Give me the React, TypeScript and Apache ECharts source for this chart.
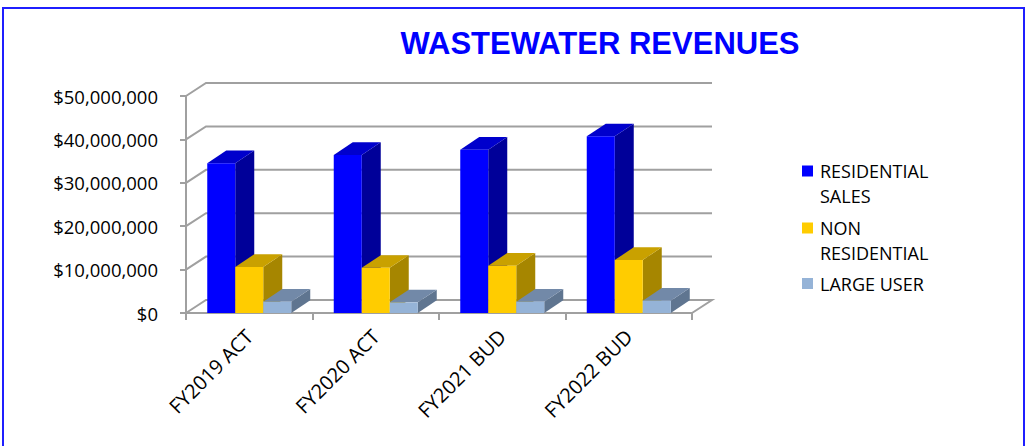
import React, { useEffect, useRef } from "react";
import * as echarts from "echarts";

const categories = ["FY2019 ACT", "FY2020 ACT", "FY2021 BUD", "FY2022 BUD"];
const residentialSales = [34500000, 36400000, 37600000, 40700000];
const nonResidential = [10600000, 10400000, 10900000, 12200000];
const largeUser = [2600000, 2450000, 2600000, 2850000];
const yTicks = [0, 10000000, 20000000, 30000000, 40000000, 50000000];

const seriesDefs = [
  { name: "RESIDENTIAL SALES", data: residentialSales, front: "#0000FF", top: "#0000CC", side: "#000099" },
  { name: "NON RESIDENTIAL", data: nonResidential, front: "#FFCC00", top: "#C9A100", side: "#A68600" },
  { name: "LARGE USER", data: largeUser, front: "#95B3D7", top: "#7289A8", side: "#5F7590" },
];

const DX = 20;
const DY = -13;
const BDX = 19;
const BDY = -12.7;
const GROUP_RATIO = 84 / 126.5;
const FONT = "'Open Sans', 'Noto Sans', sans-serif";
const GRID = "#A0A0A0";

export default function App() {
  const ref = useRef<HTMLDivElement>(null);
  useEffect(() => {
    document.body.style.margin = "0";
    const chart = echarts.init(ref.current!, null, { renderer: "svg" });

    const wallSeries: any = {
      type: "custom",
      name: "walls",
      z: 1,
      silent: true,
      data: yTicks.map((v) => [0, v]),
      encode: { x: 0, y: 1 },
      clip: false,
      renderItem: (params: any, api: any) => {
        const cs = params.coordSys;
        const v = api.value(1);
        const y = api.coord([0, v])[1];
        const x0 = cs.x;
        const x1 = cs.x + cs.width;
        const pts: number[][] = [
          [x0, y],
          [x0 + DX, y + DY],
          [x1 + DX, y + DY],
        ];
        if (v === 0) pts.push([x1, y]);
        return {
          type: "polyline",
          shape: { points: pts },
          style: { stroke: GRID, lineWidth: 2, fill: "none" },
        };
      },
    };

    const barSeries = seriesDefs.map((s, si) => ({
      type: "custom",
      name: s.name,
      z: 2 + si,
      data: s.data.map((v, i) => [i, v]),
      encode: { x: 0, y: 1 },
      clip: false,
      renderItem: (params: any, api: any) => {
        const cat = api.value(0);
        const val = api.value(1);
        const base = api.coord([cat, 0]);
        const topP = api.coord([cat, val]);
        const catW = api.size([1, 0])[0];
        const bw = (catW * GROUP_RATIO) / 3;
        const x0 = base[0] - 1.5 * bw + si * bw;
        const x1 = x0 + bw;
        const yb = base[1];
        const yt = topP[1];
        return {
          type: "group",
          children: [
            {
              type: "polygon",
              shape: { points: [[x1, yb], [x1 + BDX, yb + BDY], [x1 + BDX, yt + BDY], [x1, yt]] },
              style: { fill: s.side },
            },
            {
              type: "polygon",
              shape: { points: [[x0, yt], [x1, yt], [x1 + BDX, yt + BDY], [x0 + BDX, yt + BDY]] },
              style: { fill: s.top },
            },
            {
              type: "polygon",
              shape: { points: [[x0, yb], [x1, yb], [x1, yt], [x0, yt]] },
              style: { fill: s.front },
            },
          ],
        };
      },
    }));

    const legendItems = [
      { lines: ["RESIDENTIAL", "SALES"], color: seriesDefs[0].front, y: 171 },
      { lines: ["NON", "RESIDENTIAL"], color: seriesDefs[1].front, y: 228 },
      { lines: ["LARGE USER"], color: seriesDefs[2].front, y: 283.5 },
    ];
    const legendGraphics: any[] = [];
    legendItems.forEach((it) => {
      legendGraphics.push({
        type: "rect",
        shape: { x: 802, y: it.y - 5.5, width: 11, height: 11 },
        style: { fill: it.color },
      });
      it.lines.forEach((ln, li) => {
        legendGraphics.push({
          type: "text",
          x: 820,
          y: it.y + li * 25,
          style: {
            text: ln,
            fill: "#000",
            font: `18px ${FONT}`,
            textVerticalAlign: "middle",
            verticalAlign: "middle",
          },
        });
      });
    });

    chart.setOption({
      animation: false,
      backgroundColor: "#fff",
      title: {
        text: "WASTEWATER REVENUES",
        left: 595,
        top: 23,
        textAlign: "center",
        textStyle: {
          color: "#0000FF",
          fontSize: 31,
          fontWeight: "bold",
          fontFamily: "'Liberation Sans', Arial, sans-serif",
        },
      },
      grid: { left: 186, top: 96, width: 506, height: 217 },
      xAxis: {
        type: "category",
        data: categories,
        axisLine: { show: true, lineStyle: { color: GRID, width: 2 } },
        axisTick: { show: true, length: 7, lineStyle: { color: GRID, width: 2 } },
        axisLabel: {
          interval: 0,
          rotate: 45,
          margin: 20,
          color: "#000",
          fontSize: 20,
          fontFamily: FONT,
        },
        splitLine: { show: false },
      },
      yAxis: {
        type: "value",
        min: 0,
        max: 50000000,
        interval: 10000000,
        axisLine: { show: true, lineStyle: { color: GRID, width: 2 } },
        axisTick: { show: true, length: 6, lineStyle: { color: GRID, width: 2 } },
        splitLine: { show: false },
        axisLabel: {
          margin: 28,
          color: "#000",
          fontSize: 18.5,
          fontFamily: FONT,
          formatter: (v: number) => "$" + v.toLocaleString("en-US"),
        },
      },
      graphic: [
        {
          type: "rect",
          shape: { x: 3, y: 8, width: 1021, height: 460 },
          style: { fill: "none", stroke: "#1F1FFF", lineWidth: 2 },
          silent: true,
        },
        ...legendGraphics,
      ],
      series: [wallSeries, ...barSeries],
    });
    return () => chart.dispose();
  }, []);
  return <div ref={ref} style={{ width: 1026, height: 446 }} />;
}
